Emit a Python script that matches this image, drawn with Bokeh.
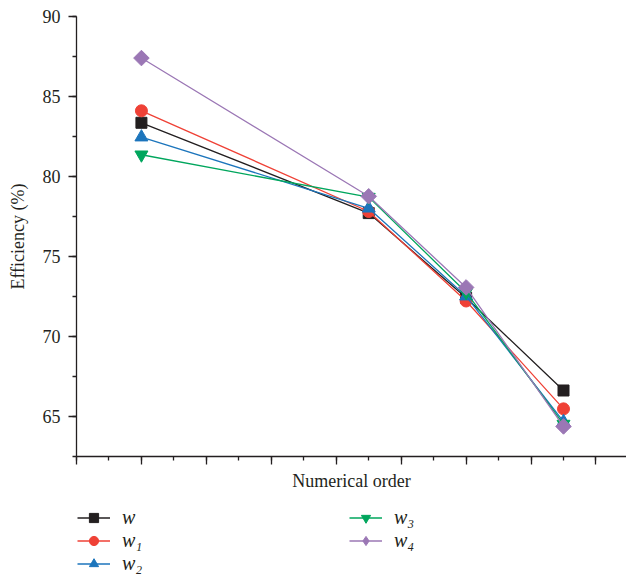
import math
from bokeh.plotting import figure
from bokeh.models import Legend, LegendItem, SingleIntervalTicker, Range1d
from bokeh.layouts import column
from bokeh.embed import file_html
from bokeh.resources import INLINE

# ---- data ----
x_pos = [1, 4.5, 6, 7.5]
w = [83.35, 77.7, 72.4, 66.6]
w1 = [84.1, 77.8, 72.2, 65.45]
w2 = [82.45, 78.0, 72.5, 64.65]
w3 = [81.35, 78.7, 72.75, 64.5]
w4 = [87.4, 78.75, 73.05, 64.35]
labels = ["w", "w\u2081", "w\u2082", "w\u2083", "w\u2084"]
x_ticks = [0, 1, 2, 3, 4, 5, 6, 7, 8]

series = [w, w1, w2, w3, w4]
colors = ["#231f20", "#ef4136", "#1c75bc", "#00a65d", "#9b77b5"]
markers = ["square", "circle", "triangle", "inverted_triangle", "square"]
legend_markers = ["square", "circle", "triangle", "inverted_triangle", "diamond"]
sizes = [11, 12, 13, 13, 11]
angles = [0, 0, 0, 0, math.pi / 4]

FONT = "Liberation Serif"
TXT = "#231f20"

p = figure(width=626, height=500, output_backend="svg", toolbar_location=None,
           x_range=Range1d(0, 8.47), y_range=Range1d(62.47, 90),
           min_border_left=76, min_border_right=0, min_border_top=16,
           min_border_bottom=44)
p.outline_line_color = None
p.xgrid.visible = False
p.ygrid.visible = False

# axes
p.xaxis.ticker = SingleIntervalTicker(interval=1, num_minor_ticks=2)
p.yaxis.ticker = SingleIntervalTicker(interval=5, num_minor_ticks=2)
for ax in (p.xaxis, p.yaxis):
    ax.axis_line_color = TXT
    ax.axis_line_width = 1.3
    ax.major_tick_line_color = TXT
    ax.minor_tick_line_color = TXT
    ax.major_tick_line_width = 1.3
    ax.minor_tick_line_width = 1.3
    ax.major_tick_in = 0
    ax.major_tick_out = 8
    ax.minor_tick_in = 0
    ax.minor_tick_out = 4
    ax.major_label_text_font = FONT
    ax.major_label_text_font_size = "18px"
    ax.major_label_text_color = TXT
    ax.axis_label_text_font = FONT
    ax.axis_label_text_font_size = "18px"
    ax.axis_label_text_font_style = "normal"
    ax.axis_label_text_color = TXT

p.xaxis.axis_label = "Numerical order"
p.xaxis.major_label_overrides = {t: "" for t in x_ticks}
p.xaxis.major_label_standoff = 0
p.xaxis.axis_label_standoff = 6
p.yaxis.axis_label = "Efficiency (%)"
p.yaxis.major_label_standoff = 8
p.yaxis.axis_label_standoff = 12

for ys, c, m, s, a in zip(series, colors, markers, sizes, angles):
    p.line(x_pos, ys, line_color=c, line_width=1.3)
    p.scatter(x_pos, ys, marker=m, size=s, angle=a, fill_color=c, line_color=c)

# ---- legend panel underneath ----
q = figure(width=626, height=76, output_backend="svg", toolbar_location=None,
           x_axis_location=None, y_axis_location=None,
           x_range=Range1d(0, 1), y_range=Range1d(0, 1),
           min_border_left=0, min_border_right=0, min_border_top=0,
           min_border_bottom=0)
q.outline_line_color = None
q.xgrid.visible = False
q.ygrid.visible = False

items = []
for ys, c, m, lab in zip(series, colors, legend_markers, labels):
    lr = q.line(x_pos, ys, line_color=c, line_width=1.3, visible=False)
    sr = q.scatter(x_pos, ys, marker=m, fill_color=c, line_color=c,
                   visible=False)
    items.append(LegendItem(label=lab, renderers=[lr, sr]))

legend = Legend(items=items, location=(1, 1), nrows=3,
                orientation="vertical",
                glyph_width=33, glyph_height=23, label_height=23,
                label_width=227, label_standoff=12, spacing=0,
                padding=0, margin=0, inactive_fill_alpha=0,
                label_text_font=FONT, label_text_font_style="italic",
                label_text_font_size="20px", label_text_color=TXT,
                border_line_color=None, background_fill_alpha=0)
q.add_layout(legend, "center")

layout = column(p, q, spacing=0)
open("out.html", "w").write(file_html(layout, INLINE))
